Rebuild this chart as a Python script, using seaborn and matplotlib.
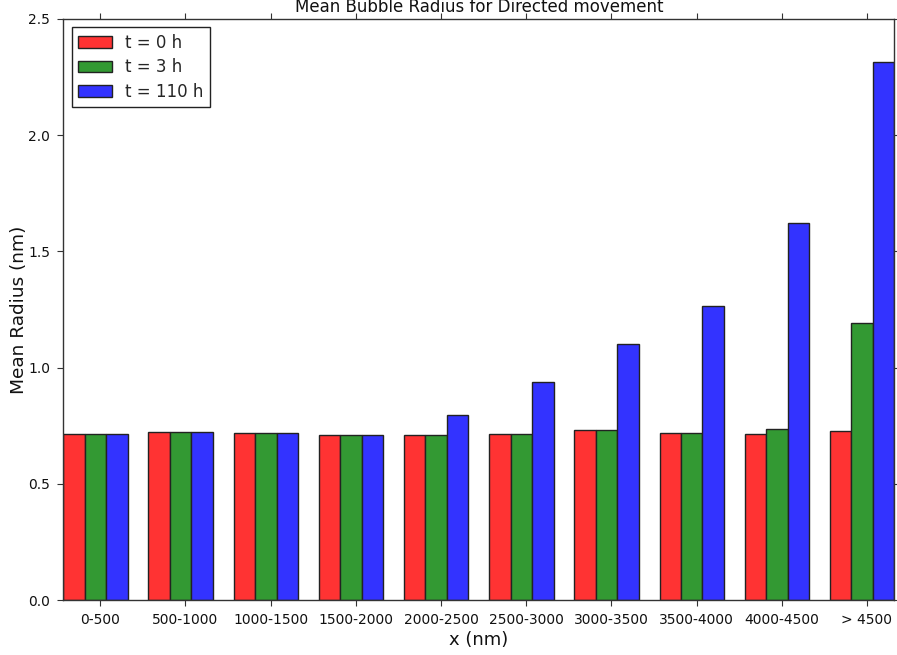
import matplotlib
matplotlib.use("Agg")
import matplotlib.pyplot as plt
import seaborn as sns
import pandas as pd
import numpy as np

bins = ["0-500", "500-1000", "1000-1500", "1500-2000", "2000-2500",
        "2500-3000", "3000-3500", "3500-4000", "4000-4500", "> 4500"]
series_names = ["t = 0 h", "t = 3 h", "t = 110 h"]
r_t0 = [0.714, 0.725, 0.720, 0.710, 0.710, 0.713, 0.732, 0.720, 0.713, 0.727]
r_t3 = [0.714, 0.725, 0.720, 0.710, 0.710, 0.713, 0.732, 0.720, 0.736, 1.191]
r_t110 = [0.714, 0.725, 0.720, 0.710, 0.795, 0.940, 1.103, 1.266, 1.624, 2.315]
colors = ["#ff3333", "#339933", "#3333ff"]
title = "Mean Bubble Radius for Directed movement"

df = pd.DataFrame({
    "bin": bins * 3,
    "series": [series_names[0]] * 10 + [series_names[1]] * 10 + [series_names[2]] * 10,
    "radius": r_t0 + r_t3 + r_t110,
})

sns.set_theme(style="white")
plt.rcParams["font.family"] = ["DejaVu Sans"]

fig = plt.figure(figsize=(8.97, 6.55), dpi=100)
ax = fig.add_axes([63.3 / 897, 1 - 600 / 655, (894.3 - 63.3) / 897, (600 - 19) / 655])

sns.barplot(data=df, x="bin", y="radius", hue="series", order=bins,
            hue_order=series_names, palette=colors, width=0.756,
            saturation=1, edgecolor="#222222", linewidth=1.0, ax=ax)

ax.set_xlim(-0.378, 9.378)
ax.set_ylim(0, 2.5)
ax.set_yticks(np.arange(0, 2.51, 0.5))
ax.set_yticklabels([f"{v:.1f}" for v in np.arange(0, 2.51, 0.5)])
ax.set_xticks(np.arange(len(bins)) + 0.056)
ax.set_xticklabels(bins)

for s in ax.spines.values():
    s.set_color("#333333")
    s.set_linewidth(1.0)
ax.tick_params(direction="out", length=4.5, width=0.8, color="#333333",
               top=True, right=True, bottom=True, left=True,
               labelsize=10, pad=5, labelcolor="#111111")

ax.set_xlabel("x (nm)", fontsize=13, labelpad=3, color="#111111")
ax.set_ylabel("Mean Radius (nm)", fontsize=13.3, labelpad=0, color="#111111")
ax.set_title(title, fontsize=12, pad=5, color="#111111")

handles, labels = ax.get_legend_handles_labels()
leg = ax.legend(handles, labels, loc="upper left", fontsize=12, frameon=True,
                fancybox=False, framealpha=1, edgecolor="#222222",
                handlelength=2.0, handleheight=0.7, labelspacing=0.38,
                borderaxespad=0.5, title=None)
leg.get_frame().set_linewidth(1.0)

fig.savefig("out.png", dpi=100)
